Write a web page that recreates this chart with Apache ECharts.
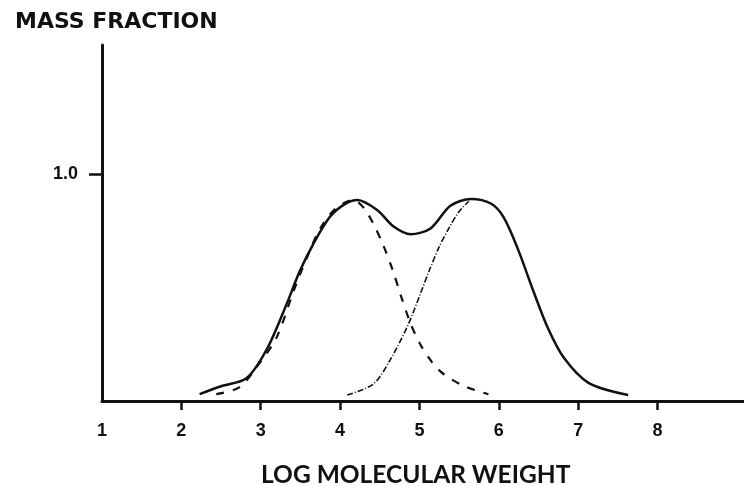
<!DOCTYPE html>
<html>
<head>
<meta charset="utf-8">
<script src="https://cdn.jsdelivr.net/npm/echarts@6/dist/echarts.min.js"></script>
<style>
  html, body { margin: 0; padding: 0; background: #fff; }
</style>
</head>
<body>
<div id="mass-fraction-chart" style="width: 744px;height: 486px;"></div>
<script>
// tick labels
var xTickValues = [1, 2, 3, 4, 5, 6, 7, 8];
var xTickMarks = [2, 3, 4, 5, 6, 7, 8];
var yTickValues = [1];

// total distribution (solid)
var totalX = [2.23, 2.5, 2.82, 3.08, 3.33, 3.49, 3.66, 3.87, 4.05, 4.22, 4.47, 4.67, 4.89, 5.14, 5.39, 5.65, 5.90, 6.06, 6.24, 6.44, 6.62, 6.82, 7.13, 7.63];
var totalY = [0.03, 0.065, 0.10, 0.23, 0.43, 0.57, 0.69, 0.81, 0.865, 0.885, 0.84, 0.77, 0.735, 0.76, 0.86, 0.89, 0.87, 0.81, 0.67, 0.48, 0.32, 0.19, 0.08, 0.026];

// low molecular weight component (dashed)
var lowX = [2.44, 2.73, 2.95, 3.20, 3.41, 3.58, 3.75, 3.95, 4.17, 4.30, 4.42, 4.54, 4.66, 4.77, 4.89, 5.01, 5.16, 5.30, 5.56, 5.87];
var lowY = [0.03, 0.06, 0.15, 0.28, 0.48, 0.63, 0.76, 0.85, 0.885, 0.85, 0.78, 0.69, 0.58, 0.46, 0.34, 0.25, 0.17, 0.12, 0.066, 0.03];

// high molecular weight component (dash-dot)
var highX = [4.09, 4.42, 4.63, 4.85, 5.01, 5.13, 5.25, 5.37, 5.49, 5.62];
var highY = [0.026, 0.075, 0.18, 0.33, 0.47, 0.58, 0.68, 0.76, 0.83, 0.88];

function pairs(xs, ys) {
  var out = [];
  for (var i = 0; i < xs.length; i++) out.push([xs[i], ys[i]]);
  return out;
}

var myChart = echarts.init(document.getElementById('mass-fraction-chart'));

var option = {
  backgroundColor: '#fff',
  animation: false,
  title: [{
    text: 'MASS FRACTION',
    left: 10,
    top: 6,
    textStyle: {
      fontFamily: 'DejaVu Sans',
      fontWeight: 'bold',
      fontSize: 22,
      color: '#111'
    }
  }, {
    text: 'LOG MOLECULAR WEIGHT',
    left: 256,
    top: 458,
    textStyle: {
      fontFamily: 'Lato',
      fontWeight: 'bold',
      fontSize: 24.5,
      color: '#111'
    }
  }],
  grid: {
    left: 102,
    right: 0,
    top: 45,
    bottom: 85
  },
  xAxis: {
    type: 'value',
    min: 1,
    max: 9.09,
    interval: 1,
    splitLine: {show: false},
    axisLine: {
      onZero: false,
      lineStyle: {color: '#111', width: 3}
    },
    axisTick: {
      show: true,
      customValues: xTickMarks,
      length: 9,
      lineStyle: {color: '#111', width: 2.5}
    },
    axisLabel: {
      customValues: xTickValues,
      margin: 21,
      fontFamily: 'Liberation Sans',
      fontWeight: 'bold',
      fontSize: 18,
      color: '#111'
    }
  },
  yAxis: {
    type: 'value',
    min: 0,
    max: 1.568,
    splitLine: {show: false},
    axisLine: {
      show: true,
      lineStyle: {color: '#111', width: 3}
    },
    axisTick: {
      show: true,
      customValues: yTickValues,
      length: 13,
      lineStyle: {color: '#111', width: 2.5}
    },
    axisLabel: {
      customValues: yTickValues,
      margin: 24,
      formatter: function (v) { return v.toFixed(1); },
      fontFamily: 'Liberation Sans',
      fontWeight: 'bold',
      fontSize: 18,
      color: '#111'
    }
  },
  series: [{
    name: 'total',
    type: 'line',
    smooth: 0.3,
    symbol: 'none',
    lineStyle: {color: '#111', width: 2.5},
    data: pairs(totalX, totalY),
    z: 3
  }, {
    name: 'low',
    type: 'line',
    smooth: 0.3,
    symbol: 'none',
    lineStyle: {color: '#111', width: 2.2, type: [8, 9]},
    data: pairs(lowX, lowY),
    z: 2
  }, {
    name: 'high',
    type: 'line',
    smooth: 0.3,
    symbol: 'none',
    lineStyle: {color: '#111', width: 1.6, type: [6, 2, 1, 2]},
    data: pairs(highX, highY),
    z: 2
  }]
};
myChart.setOption(option);
</script>
</body>
</html>
